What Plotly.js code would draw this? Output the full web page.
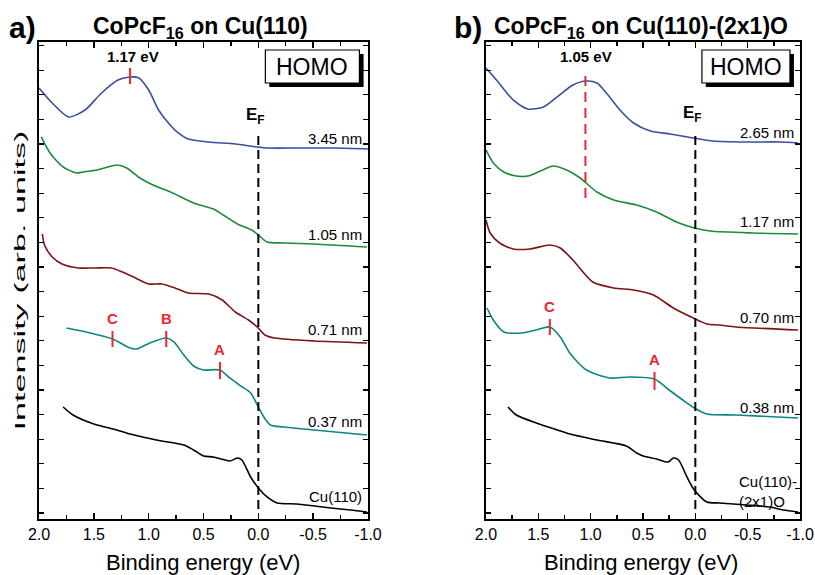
<!DOCTYPE html>
<html><head><meta charset="utf-8">
<script src="https://cdn.plot.ly/plotly-3.0.1.min.js"></script>
<style>html,body{margin:0;padding:0;background:#fff}#plot{width:815px;height:575px}</style>
</head><body><div id="plot"></div>
<script>
// ---- Panel a: CoPcF16 on Cu(110) ----
const a345E = [2.00,1.88,1.73,1.58,1.43,1.28,1.17,1.09,1.00,0.91,0.82,0.73,0.64,0.45,0.21,0.01,-0.09,-0.40,-0.70,-1.00];
const a345I = [431,416,402,409,426,439,442,441,429,409,396,386,380,377,375,372,371,371,371,370];
const a105E = [1.98,1.90,1.78,1.66,1.60,1.47,1.29,1.20,1.08,0.96,0.80,0.59,0.41,0.32,0.19,0.06,0.00,-0.08,-0.23,-0.51,-0.99];
const a105I = [382,366,352,346,347,349,354,351,341,334,327,316,310,304,295,289,284,277,276,275,272];
const a071E = [1.97,1.95,1.88,1.79,1.64,1.49,1.34,1.24,1.12,1.00,0.88,0.76,0.64,0.45,0.33,0.21,0.09,0.01,-0.06,-0.15,-0.51,-0.99];
const a071I = [285,274,262,255,251,251,251,247,241,235,235,231,226,225,219,207,199,192,184,181,178,176];
const a037E = [1.75,1.53,1.33,1.17,1.11,0.99,0.84,0.77,0.68,0.59,0.50,0.35,0.26,0.16,0.07,0.00,-0.05,-0.11,-0.23,-0.51,-0.99];
const a037I = [191,186,180,171,170,176,181,177,164,153,149,149,141,133,126,112,102,94,92,89,84];
const aCuE = [1.78,1.69,1.50,1.29,1.17,0.93,0.68,0.59,0.50,0.41,0.26,0.19,0.15,0.07,0.00,-0.08,-0.17,-0.35,-0.51,-0.66,-0.84,-0.99];
const aCuI = [112,104,95,89,85,79,74,69,63,62,58,61,59,42,31,22,16,15,13,11,9,7];

// ---- Panel b: CoPcF16 on Cu(110)-(2x1)O ----
const b265E = [2.00,1.90,1.74,1.60,1.45,1.32,1.17,1.04,0.94,0.85,0.72,0.59,0.43,0.24,0.02,-0.17,-0.49,-0.81,-0.98];
const b265I = [451,439,419,410,412,422,434,438,436,426,409,396,388,385,381,378,377,377,376];
const b117E = [2.00,1.93,1.83,1.71,1.60,1.48,1.36,1.23,1.10,0.94,0.78,0.56,0.37,0.18,0.01,-0.14,-0.55,-0.98];
const b117I = [369,356,347,343,343,348,353,349,341,327,319,314,307,297,291,288,286,285];
const b070E = [2.00,1.96,1.87,1.74,1.58,1.39,1.29,1.17,0.98,0.78,0.59,0.40,0.21,0.02,-0.11,-0.23,-0.39,-0.98];
const b070I = [299,286,276,270,270,274,271,259,237,231,229,224,211,201,195,194,192,189];
const b038E = [1.99,1.93,1.83,1.66,1.52,1.39,1.29,1.20,1.04,0.82,0.63,0.39,0.25,0.12,0.01,-0.11,-0.39,-0.98];
const b038I = [211,199,187,186,189,192,182,166,149,141,142,140,129,119,111,105,104,101];
const bCuE = [1.79,1.71,1.52,1.32,1.20,0.94,0.66,0.56,0.50,0.37,0.26,0.21,0.16,0.08,0.01,-0.11,-0.23,-0.49,-0.71,-0.84,-0.98];
const bCuI = [112,104,96,89,85,79,73,66,63,60,57,61,59,42,29,17,16,14,12,9,7];

// tick labels
const tickVals = [2.0,1.5,1.0,0.5,0.0,-0.5,-1.0];
const tickText = ['2.0','1.5','1.0','0.5','0.0','-0.5','-1.0'];

// peak markers
const aHomoE = 1.17, aHomoI = [435,451];
const bHomoE = 1.05, bHomoI = [321,446];
const aPeakNames = ['C','B','A'];
const aPeakE = [1.33,0.84,0.35];
const aPeakLo = [172,172,140];
const aPeakHi = [188,188,157];
const bPeakNames = ['C','A'];
const bPeakE = [1.39,0.39];
const bPeakLo = [184,129];
const bPeakHi = [200,147];
const efI = [10,386];

const cBlue='#3b4ea1', cGreen='#1e8a3c', cBrown='#7b1416', cTeal='#0b8585', cBlack='#000000', cRed='#ee2530';
const lw = 1.6;
const FONT = 'Liberation Sans, Arial, sans-serif';
function curve(E,I,col,xa,ya){return {x:E,y:I,mode:'lines',line:{color:col,width:lw,shape:'spline',smoothing:0.7},xaxis:xa,yaxis:ya,hoverinfo:'skip',showlegend:false};}
function vline(e,rng,col,dash,w,xa,ya){return {x:[e,e],y:rng,mode:'lines',line:{color:col,width:w,dash:dash},xaxis:xa,yaxis:ya,hoverinfo:'skip',showlegend:false};}

const traces = [
  curve(a345E,a345I,cBlue,'x','y'), curve(a105E,a105I,cGreen,'x','y'), curve(a071E,a071I,cBrown,'x','y'),
  curve(a037E,a037I,cTeal,'x','y'), curve(aCuE,aCuI,cBlack,'x','y'),
  curve(b265E,b265I,cBlue,'x2','y2'), curve(b117E,b117I,cGreen,'x2','y2'), curve(b070E,b070I,cBrown,'x2','y2'),
  curve(b038E,b038I,cTeal,'x2','y2'), curve(bCuE,bCuI,cBlack,'x2','y2'),
  vline(0,efI,'#000','9px,5px',2,'x','y'), vline(0,efI,'#000','9px,5px',2,'x2','y2'),
  vline(aHomoE,aHomoI,cRed,'solid',2,'x','y'),
  vline(bHomoE,bHomoI,cRed,'10px,6px',2,'x2','y2')
];
aPeakE.forEach((e,i)=>traces.push(vline(e,[aPeakLo[i],aPeakHi[i]],cRed,'solid',2,'x','y')));
bPeakE.forEach((e,i)=>traces.push(vline(e,[bPeakLo[i],bPeakHi[i]],cRed,'solid',2,'x2','y2')));

const tickFont = {family:FONT, size:16, color:'#000'};
function xax(dom,anchor){return {domain:dom,anchor:anchor,range:[2.0,-1.0],autorange:false,showgrid:false,zeroline:false,
  showline:true,linewidth:2,linecolor:'#000',mirror:'ticks',ticks:'inside',ticklen:6,tickwidth:1.5,tickcolor:'#000',
  tickvals:tickVals,ticktext:tickText,tickfont:tickFont,
  minor:{dtick:0.25,ticks:'inside',ticklen:4,tickwidth:1.5,tickcolor:'#000'}};}
function yax(anchor){return {domain:[0.0974,0.927],anchor:anchor,range:[0,477],autorange:false,showgrid:false,zeroline:false,
  showline:true,linewidth:2,linecolor:'#000',mirror:'ticks',ticks:'inside',ticklen:5,tickwidth:1.2,tickcolor:'#000',
  tick0:6,dtick:24.6,showticklabels:false};}

function ann(xref,yref,x,y,text,size,opts){return Object.assign({xref:xref,yref:yref,x:x,y:y,text:text,showarrow:false,
  xanchor:'center',yanchor:'middle',font:{family:FONT,size:size,color:'#000'}},opts||{});}
const redFont = {family:FONT,size:15,color:cRed};

const annotations = [
  ann('paper','paper',0.027,0.952,'<b>a)</b>',30),
  ann('paper','paper',0.574,0.952,'<b>b)</b>',30),
  ann('paper','paper',0.2466,0.952,'<b>CoPcF<sub>16</sub> on Cu(110)</b>',23),
  ann('paper','paper',0.7865,0.952,'<b>CoPcF<sub>16</sub> on Cu(110)-(2x1)O</b>',23),
  ann('paper','paper',0.0245,0.513,'Intensity (arb. units)',14,{textangle:-90}),
  ann('paper','paper',0.249,0.021,'Binding energy (eV)',22),
  ann('paper','paper',0.7865,0.021,'Binding energy (eV)',22),
  ann('x','y',1.14,462,'<b>1.17 eV</b>',15),
  ann('x2','y2',1.045,462,'<b>1.05 eV</b>',15),
  ann('x','y',0.03,403,'<b>E<sub>F</sub></b>',17),
  ann('x2','y2',0.03,405,'<b>E<sub>F</sub></b>',17),
  ann('x','y',-0.49,452,'HOMO',23),
  ann('x2','y2',-0.485,452,'HOMO',23),
  ann('x','y',-0.96,380,'3.45 nm',15,{xanchor:'right'}),
  ann('x','y',-0.96,284,'1.05 nm',15,{xanchor:'right'}),
  ann('x','y',-0.96,189,'0.71 nm',15,{xanchor:'right'}),
  ann('x','y',-0.96,97,'0.37 nm',15,{xanchor:'right'}),
  ann('x','y',-0.96,22,'Cu(110)',15,{xanchor:'right'}),
  ann('x2','y2',-0.96,386,'2.65 nm',15,{xanchor:'right'}),
  ann('x2','y2',-0.96,297,'1.17 nm',15,{xanchor:'right'}),
  ann('x2','y2',-0.96,201,'0.70 nm',15,{xanchor:'right'}),
  ann('x2','y2',-0.96,111,'0.38 nm',15,{xanchor:'right'}),
  ann('x2','y2',-0.40,27,'Cu(110)-<br>(2x1)O',15,{xanchor:'left',align:'left'})
];
aPeakNames.forEach((n,i)=>annotations.push(ann('x','y',aPeakE[i],aPeakHi[i]+12,'<b>'+n+'</b>',15,{font:redFont})));
bPeakNames.forEach((n,i)=>annotations.push(ann('x2','y2',bPeakE[i],bPeakHi[i]+12,'<b>'+n+'</b>',15,{font:redFont})));

const shapes = [
  {type:'rect',xref:'x',yref:'y',x0:-0.10,x1:-0.96,y0:432,y1:465,fillcolor:'#000',line:{width:0}},
  {type:'rect',xref:'x',yref:'y',x0:-0.064,x1:-0.922,y0:436,y1:469,fillcolor:'#fff',line:{color:'#000',width:1.2}},
  {type:'rect',xref:'x2',yref:'y2',x0:-0.10,x1:-0.942,y0:432,y1:465,fillcolor:'#000',line:{width:0}},
  {type:'rect',xref:'x2',yref:'y2',x0:-0.063,x1:-0.904,y0:436,y1:469,fillcolor:'#fff',line:{color:'#000',width:1.2}}
];

const layout = {
  width:815,height:575,margin:{l:0,r:0,t:0,b:0},paper_bgcolor:'#fff',plot_bgcolor:'#fff',showlegend:false,
  xaxis:xax([0.0479,0.4515],'y'), yaxis:yax('x'),
  xaxis2:xax([0.5963,0.9816],'y2'), yaxis2:yax('x2'),
  annotations:annotations, shapes:shapes
};
Plotly.newPlot('plot',traces,layout,{displayModeBar:false,staticPlot:true}).then(gd=>{
  gd.querySelectorAll('text.annotation-text').forEach(t=>{
    if(t.textContent==='Intensity (arb. units)'){
      t.setAttribute('textLength','300');
      t.setAttribute('lengthAdjust','spacingAndGlyphs');
    }
  });
});
</script></body></html>
